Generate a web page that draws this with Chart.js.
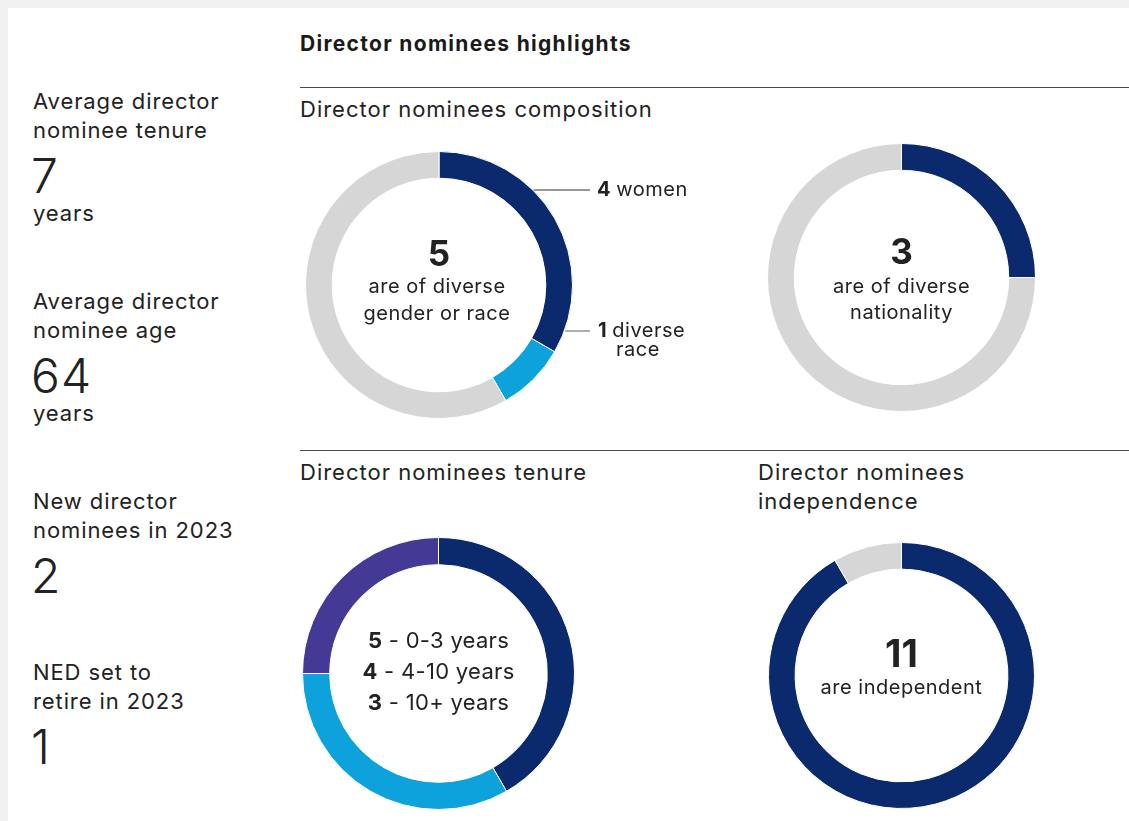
<!DOCTYPE html>
<html>
<head>
<meta charset="utf-8">
<title>Director nominees highlights</title>
<script src="https://cdn.jsdelivr.net/npm/chart.js@4.4.1/dist/chart.umd.min.js"></script>
<style>
  html, body { margin: 0; padding: 0; }
  body {
    width: 1129px; height: 821px; overflow: hidden;
    background: #f0f1f0;
    font-family: "Inter", "Noto Sans", sans-serif;
    color: #222;
  }
  #panel {
    position: absolute; left: 8px; top: 8px; width: 1121px; height: 813px;
    background: #fff;
  }
  .abs { position: absolute; white-space: nowrap; }
  .stat-label { font-size: 22px; line-height: 29px; letter-spacing: 0.9px; }
  .stat-value { font-size: 48px; line-height: 56px; font-weight: 300; letter-spacing: 1px; }
  .heading { font-size: 21px; line-height: 28px; font-weight: 700; color: #1a1a1a; letter-spacing: 1.3px; }
  .subhead { font-size: 22px; line-height: 29px; letter-spacing: 1px; }
  .rule { position: absolute; height: 0; border-top: 1px solid #4a4a4a; }
  canvas { position: absolute; }
</style>
</head>
<body>
<div id="panel"></div>
<div id="page"></div>
<canvas id="composition" width="420" height="268" style="left:305px;top:151px"></canvas>
<canvas id="nationality" width="269" height="269" style="left:767px;top:143px"></canvas>
<canvas id="tenure" width="273" height="273" style="left:302px;top:537px"></canvas>
<canvas id="independence" width="267" height="267" style="left:768px;top:542px"></canvas>
<script>
// Key figures down the left side
const statLabels = [
  ["Average director", "nominee tenure"],
  ["Average director", "nominee age"],
  ["New director", "nominees in 2023"],
  ["NED set to", "retire in 2023"]
];
const statValues = ["7", "64", "2", "1"];
const statUnits = ["years", "years", "", ""];

// Doughnut data (12 director nominees)
const compositionLabels = ["women", "diverse race", "other"];
const compositionValues = [4, 1, 7];
const nationalityLabels = ["diverse nationality", "other"];
const nationalityValues = [3, 9];
const tenureLabels = ["0-3 years", "4-10 years", "10+ years"];
const tenureValues = [5, 4, 3];
const independenceLabels = ["independent", "not independent"];
const independenceValues = [11, 1];

const NAVY = "#0b2a6e";
const SKY = "#0ea2dc";
const PURPLE = "#443a95";
const GREY = "#d6d6d6";
const FONT = '"Inter", "Noto Sans", sans-serif';

// ---- static text ----
const page = document.getElementById("page");
function addText(cls, text, left, top) {
  const d = document.createElement("div");
  d.className = "abs " + cls;
  d.textContent = text;
  d.style.left = left + "px";
  d.style.top = top + "px";
  page.appendChild(d);
}
function addRule(left, top, width) {
  const d = document.createElement("div");
  d.className = "rule";
  d.style.left = left + "px";
  d.style.top = top + "px";
  d.style.width = width + "px";
  page.appendChild(d);
}

const statTops = [87, 287, 487, 658];
statLabels.forEach((lines, i) => {
  const t = statTops[i];
  addText("stat-label", lines[0], 33, t);
  addText("stat-label", lines[1], 33, t + 29);
  addText("stat-value", statValues[i], 31, t + 61);
  if (statUnits[i]) addText("stat-label", statUnits[i], 33, t + 112);
});

addText("heading", "Director nominees highlights", 300, 30);
addRule(300, 87, 829);
addText("subhead", "Director nominees composition", 300, 95);
addRule(300, 450, 829);
addText("subhead", "Director nominees tenure", 300, 458);
addText("subhead", "Director nominees", 758, 458);
addText("subhead", "independence", 758, 487);

// ---- plugins ----
// a run is { text, font, ls } drawn left to right
function drawRuns(ctx, runs, x, y, align) {
  const widths = runs.map(r => {
    ctx.font = r.font;
    ctx.letterSpacing = (r.ls || 0) + "px";
    return ctx.measureText(r.text).width;
  });
  const total = widths.reduce((a, b) => a + b, 0);
  let cx = align === "center" ? x - total / 2 : x;
  runs.forEach((r, i) => {
    ctx.font = r.font;
    ctx.letterSpacing = (r.ls || 0) + "px";
    ctx.fillText(r.text, cx, y);
    cx += widths[i];
  });
  ctx.letterSpacing = "0px";
}

// text in the hole of the doughnut
const centerText = {
  id: "centerText",
  afterDraw(chart, args, opts) {
    const arc = chart.getDatasetMeta(0).data[0];
    if (!arc || !opts.lines) return;
    const ctx = chart.ctx;
    ctx.save();
    ctx.fillStyle = "#222";
    ctx.textAlign = "left";
    ctx.textBaseline = "middle";
    opts.lines.forEach(line => drawRuns(ctx, line.runs, arc.x + (line.dx || 0), arc.y + line.dy, "center"));
    ctx.restore();
  }
};

// horizontal leader lines with labels to the right of the ring
const callouts = {
  id: "callouts",
  afterDraw(chart, args, opts) {
    const arc = chart.getDatasetMeta(0).data[0];
    if (!arc || !opts.items) return;
    const ctx = chart.ctx;
    const r = arc.outerRadius;
    ctx.save();
    ctx.textAlign = "left";
    ctx.textBaseline = "middle";
    opts.items.forEach(item => {
      const y = arc.y + item.dy;
      const x0 = arc.x + Math.sqrt(r * r - item.dy * item.dy) + 1;
      ctx.strokeStyle = item.lineColor;
      ctx.lineWidth = 1.2;
      ctx.beginPath();
      ctx.moveTo(x0, y);
      ctx.lineTo(arc.x + item.lineEnd, y);
      ctx.stroke();
      ctx.fillStyle = "#222";
      drawRuns(ctx, item.runs, arc.x + item.textX, y, "left");
      if (item.second) {
        drawRuns(ctx, [item.second], arc.x + item.second.dx, y + item.second.dy, "left");
      }
    });
    ctx.restore();
  }
};

function makeRing(id, labels, values, colors, pluginOpts, padding) {
  const plugins = Object.assign({ legend: { display: false }, tooltip: { enabled: false } }, pluginOpts);
  return new Chart(document.getElementById(id), {
    type: "doughnut",
    data: {
      labels: labels,
      datasets: [{
        data: values,
        backgroundColor: colors,
        borderColor: "#fff",
        borderWidth: 1
      }]
    },
    options: {
      responsive: false,
      animation: false,
      cutout: "80%",
      layout: { padding: padding || 0 },
      plugins: plugins
    },
    plugins: [centerText, callouts]
  });
}

function build() {
  const B = size => "700 " + size + "px " + FONT;
  const R = size => "400 " + size + "px " + FONT;
  const small = (text, ls) => ({ text: text, font: R(20), ls: ls === undefined ? 0.5 : ls });

  makeRing("composition", compositionLabels, compositionValues, [NAVY, SKY, GREY], {
    centerText: {
      lines: [
        { dy: -30, runs: [{ text: String(compositionValues[0] + compositionValues[1]), font: B(35) }] },
        { dy: 2, dx: -2, runs: [small("are of diverse")] },
        { dy: 29, dx: -2, runs: [small("gender or race")] }
      ]
    },
    callouts: {
      items: [
        {
          dy: -95, lineEnd: 151, textX: 158, lineColor: "#333",
          runs: [{ text: String(compositionValues[0]) + " ", font: B(20), ls: 0.5 }, small(compositionLabels[0])]
        },
        {
          dy: 46, lineEnd: 151, textX: 159, lineColor: "#777",
          runs: [{ text: String(compositionValues[1]) + " ", font: B(20), ls: 0.5 }, small("diverse")],
          second: Object.assign(small("race"), { dx: 177, dy: 19 })
        }
      ]
    }
  }, { right: 152 });

  makeRing("nationality", nationalityLabels, nationalityValues, [NAVY, GREY], {
    centerText: {
      lines: [
        { dy: -24, runs: [{ text: String(nationalityValues[0]), font: B(35) }] },
        { dy: 9, runs: [small("are of diverse")] },
        { dy: 35, runs: [small("nationality")] }
      ]
    }
  });

  makeRing("tenure", tenureLabels, tenureValues, [NAVY, SKY, PURPLE], {
    centerText: {
      lines: tenureValues.map((v, i) => ({
        dy: -32 + i * 31,
        runs: [{ text: String(v), font: B(22), ls: 0.3 }, { text: " - " + tenureLabels[i], font: R(22), ls: 0.3 }]
      }))
    }
  });

  makeRing("independence", independenceLabels, independenceValues, [NAVY, GREY], {
    centerText: {
      lines: [
        { dy: -20, runs: [{ text: String(independenceValues[0]), font: B(38) }] },
        { dy: 12, runs: [small("are " + independenceLabels[0])] }
      ]
    }
  });
}

Promise.all([
  document.fonts.load("400 20px Inter"),
  document.fonts.load("700 20px Inter")
]).then(build, build);
</script>
</body>
</html>
